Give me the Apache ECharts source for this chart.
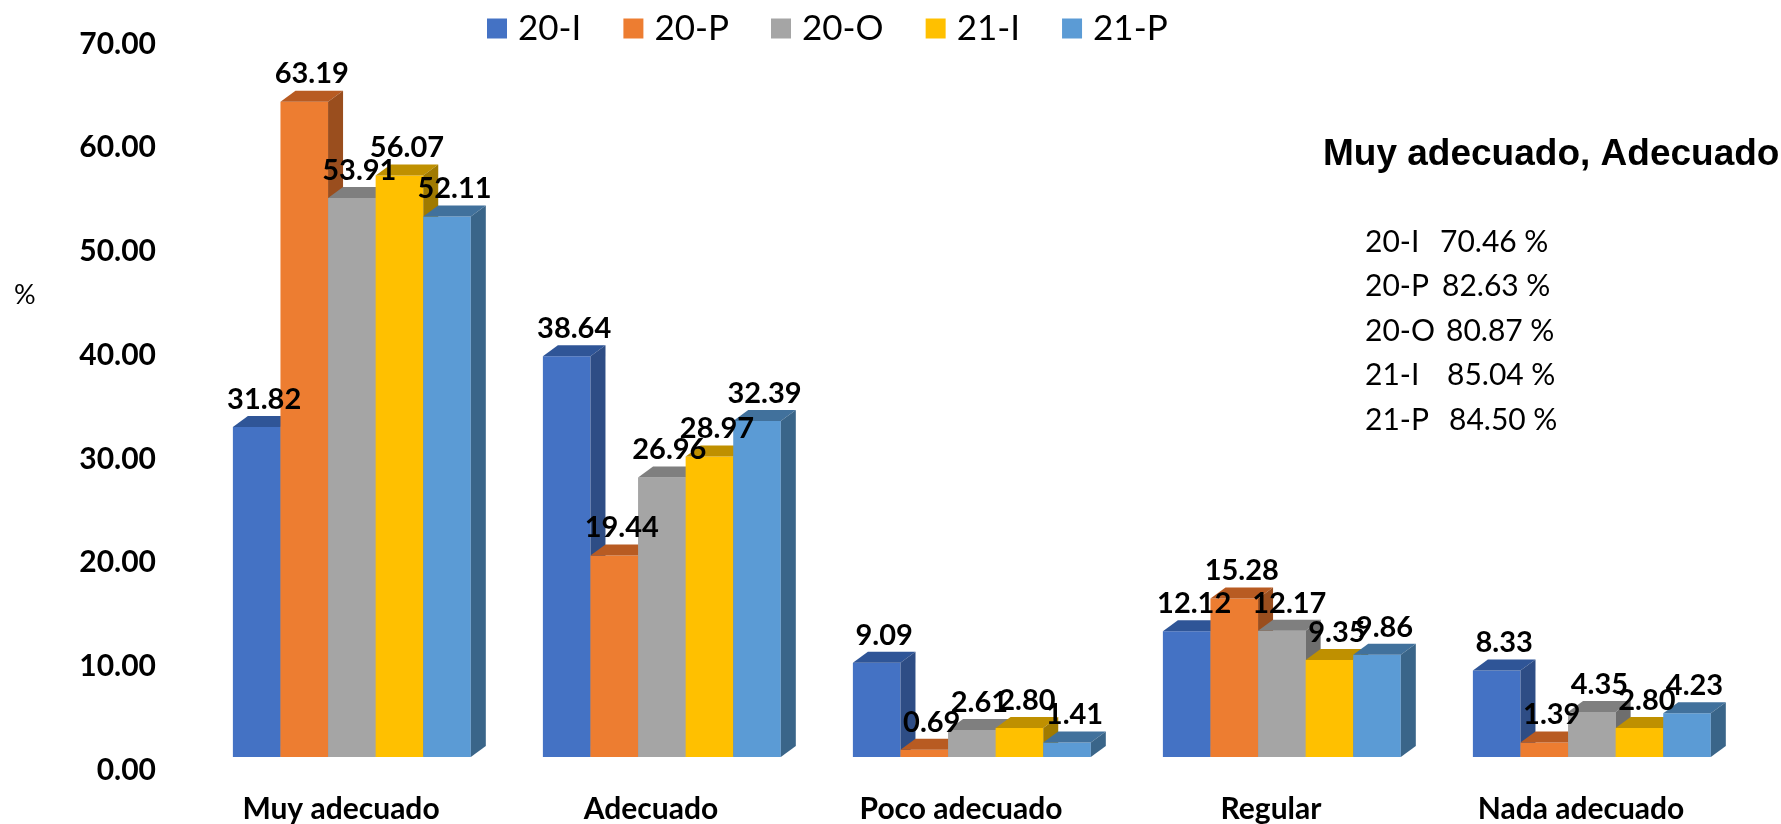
<!DOCTYPE html>
<html>
<head>
<meta charset="utf-8">
<script src="https://cdn.jsdelivr.net/npm/echarts@6/dist/echarts.min.js"></script>
<style>
  html, body { margin: 0; padding: 0; background: #fff; }
  #chart { width: 1781px; height: 824px; }
</style>
</head>
<body>
<div id="chart"></div>
<script>
// categorias y series
var categories = ["Muy adecuado", "Adecuado", "Poco adecuado", "Regular", "Nada adecuado"];
var seriesNames = ["20-I", "20-P", "20-O", "21-I", "21-P"];
var s20I = [31.82, 38.64, 9.09, 12.12, 8.33];
var s20P = [63.19, 19.44, 0.69, 15.28, 1.39];
var s20O = [53.91, 26.96, 2.61, 12.17, 4.35];
var s21I = [56.07, 28.97, 2.80, 9.35, 2.80];
var s21P = [52.11, 32.39, 1.41, 9.86, 4.23];
var yTicks = [0, 10, 20, 30, 40, 50, 60, 70];

// resumen "Muy adecuado, Adecuado"
var sumNames = ["20-I", "20-P", "20-O", "21-I", "21-P"];
var sumValues = ["70.46 %", "82.63 %", "80.87 %", "85.04 %", "84.50 %"];

var allData = [s20I, s20P, s20O, s21I, s21P];
var front = ["#4472C4", "#ED7D31", "#A5A5A5", "#FFC000", "#5B9BD5"];
var topc  = ["#2F5597", "#B85B22", "#7F7F7F", "#BF9000", "#41719C"];
var sidec = ["#2E4D85", "#9A4E1E", "#6E6E6E", "#A07A00", "#3A6589"];

var DX = 15, DY = 11;

function makeRender(si) {
  return function (params, api) {
    var cat = api.value(0), val = api.value(1);
    var base = api.coord([cat, 0]);
    var top = api.coord([cat, val]);
    var band = api.size([1, 0])[0];
    var w = band * 0.1535;
    var x0 = base[0] - 2.5 * w + band * 0.035 + si * w;
    var x1 = x0 + w;
    var yb = base[1], yt = top[1];
    return {
      type: "group",
      children: [
        { type: "rect", shape: { x: x0, y: yt, width: w, height: yb - yt },
          style: { fill: front[si] } },
        { type: "polygon", shape: { points: [[x0, yt], [x0 + DX, yt - DY], [x1 + DX, yt - DY], [x1, yt]] },
          style: { fill: topc[si] } },
        { type: "polygon", shape: { points: [[x1, yt], [x1 + DX, yt - DY], [x1 + DX, yb - DY], [x1, yb]] },
          style: { fill: sidec[si] } },
        { type: "text", z2: 100,
          style: { x: x0 + w / 2 + DX / 2, y: yt - DY - 2, text: val.toFixed(2),
            align: "center", verticalAlign: "bottom",
            fontFamily: "Lato", fontWeight: "bold", fontSize: 29, fill: "#000" } }
      ]
    };
  };
}

var series = seriesNames.map(function (name, si) {
  return {
    name: name,
    type: "custom",
    renderItem: makeRender(si),
    itemStyle: { color: front[si] },
    encode: { x: 0, y: 1 },
    data: allData[si].map(function (v, i) { return [i, v]; })
  };
});

var graphics = [
  { type: "text", left: 14, top: 282,
    style: { text: "%", fontFamily: "Lato", fontSize: 27, fill: "#000" } },
  { type: "text", left: 1323, top: 136,
    style: { text: "Muy adecuado, Adecuado", fontFamily: "Liberation Sans", fontWeight: "bold", fontSize: 37, fill: "#000" } }
];
sumNames.forEach(function (n, i) {
  graphics.push({ type: "text", left: 1365, top: 227 + i * 44.5,
    style: { text: n, fontFamily: "Lato", fontSize: 30, fill: "#000" } });
  graphics.push({ type: "text", left: 1440 + [0, 2, 6, 7, 9][i], top: 227 + i * 44.5,
    style: { text: sumValues[i], fontFamily: "Lato", fontSize: 30, fill: "#000" } });
});

var chart = echarts.init(document.getElementById("chart"));
chart.setOption({
  backgroundColor: "#fff",
  animation: false,
  legend: {
    data: seriesNames,
    left: 482, top: 6,
    icon: "rect", itemWidth: 20, itemHeight: 20, itemGap: 42,
    textStyle: { fontFamily: "Lato", fontSize: 35, color: "#000", padding: [0, 0, 0, 6] }
  },
  grid: { left: 186, right: 45, top: 31, bottom: 64 },
  xAxis: {
    type: "category",
    data: categories,
    axisLine: { show: false },
    axisTick: { show: false },
    axisLabel: { margin: 37, fontFamily: "Lato", fontWeight: "bold", fontSize: 30, color: "#000" }
  },
  yAxis: {
    type: "value",
    min: yTicks[0], max: yTicks[yTicks.length - 1], interval: 10,
    splitLine: { show: false },
    axisLine: { show: false },
    axisTick: { show: false },
    axisLabel: {
      margin: 30, fontFamily: "Lato", fontWeight: "bold", fontSize: 30, color: "#000",
      verticalAlign: "top", lineHeight: 26,
      formatter: function (v) { return v.toFixed(2); }
    }
  },
  graphic: graphics,
  series: series
});
</script>
</body>
</html>
